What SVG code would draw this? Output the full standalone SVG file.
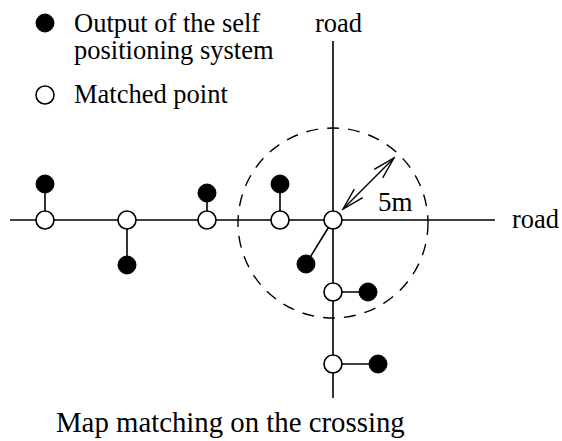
<svg xmlns="http://www.w3.org/2000/svg" width="562" height="441" viewBox="0 0 562 441">
<style>
text{font-family:"Liberation Serif","Times New Roman",serif;fill:#000;}
.lbl{font-size:26.5px;}
.road{stroke:#000;stroke-width:1.6;fill:none;}
.link{stroke:#000;stroke-width:1.6;fill:none;}
.op{fill:#fff;stroke:#000;stroke-width:1.6;}
.fp{fill:#000;stroke:#000;stroke-width:1;}
</style>
<defs>
<marker id="vhead" markerUnits="userSpaceOnUse" viewBox="-24 -8 26 16" refX="0" refY="0" markerWidth="26" markerHeight="16" orient="auto-start-reverse">
<path d="M-22,-6 L0,0 L-22,6" fill="none" stroke="#000" stroke-width="1.4"/>
</marker>
</defs>
<rect width="562" height="441" fill="#fff"/>
<g id="legend">
<circle class="fp" cx="45" cy="23" r="9"/>
<text class="lbl" x="74" y="32">Output of the self</text>
<text class="lbl" x="74" y="59">positioning system</text>
<circle class="op" cx="45" cy="95" r="9"/>
<text class="lbl" x="74" y="103">Matched point</text>
</g>
<g id="labels">
<text class="lbl" x="315" y="32">road</text>
<text class="lbl" x="512" y="228">road</text>
<text x="378" y="211" style="font-size:27px">5m</text>
<text x="56" y="432" style="font-size:28.8px">Map matching on the crossing</text>
</g>
<g id="connectors">
<line class="road" x1="10" y1="220" x2="495" y2="220"/>
<line class="road" x1="333" y1="41" x2="333" y2="398"/>
<circle cx="333" cy="223" r="95" fill="none" stroke="#000" stroke-width="1.4" stroke-dasharray="12 9"/>
<line x1="343" y1="209" x2="394" y2="158" stroke="#000" stroke-width="1.4" marker-start="url(#vhead)" marker-end="url(#vhead)"/>
<line class="link" x1="45" y1="220" x2="45" y2="184"/>
<line class="link" x1="127" y1="220" x2="127" y2="265"/>
<line class="link" x1="207" y1="220" x2="207" y2="193"/>
<line class="link" x1="280" y1="220" x2="280" y2="184"/>
<line class="link" x1="333" y1="220" x2="306" y2="264"/>
<line class="link" x1="333" y1="292" x2="368" y2="292"/>
<line class="link" x1="333" y1="364" x2="378" y2="364"/>
</g>
<g id="m1"><circle class="op" cx="45" cy="220" r="9"/></g>
<g id="o1"><circle class="fp" cx="45" cy="184" r="9"/></g>
<g id="m2"><circle class="op" cx="127" cy="220" r="9"/></g>
<g id="o2"><circle class="fp" cx="127" cy="265" r="9"/></g>
<g id="m3"><circle class="op" cx="207" cy="220" r="9"/></g>
<g id="o3"><circle class="fp" cx="207" cy="193" r="9"/></g>
<g id="m4"><circle class="op" cx="280" cy="220" r="9"/></g>
<g id="o4"><circle class="fp" cx="280" cy="184" r="9"/></g>
<g id="m5"><circle class="op" cx="333" cy="220" r="9"/></g>
<g id="o5"><circle class="fp" cx="306" cy="264" r="9"/></g>
<g id="m6"><circle class="op" cx="333" cy="292" r="9"/></g>
<g id="o6"><circle class="fp" cx="368" cy="292" r="9"/></g>
<g id="m7"><circle class="op" cx="333" cy="364" r="9"/></g>
<g id="o7"><circle class="fp" cx="378" cy="364" r="9"/></g>
</svg>
